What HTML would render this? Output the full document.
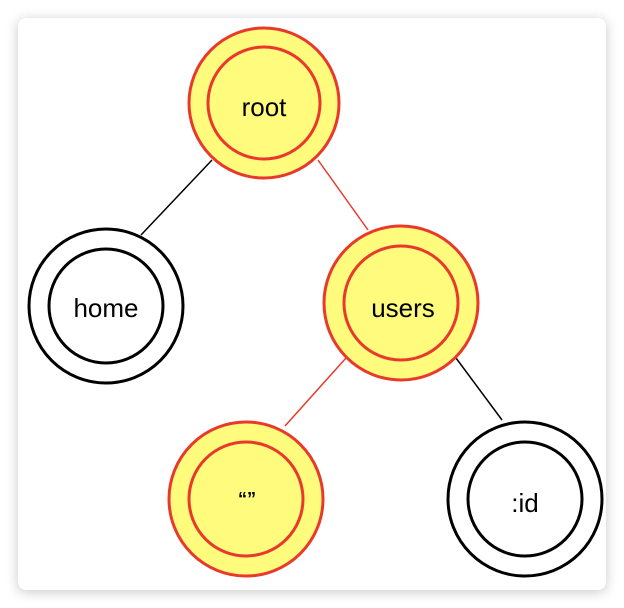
<!DOCTYPE html>
<html><head><style>
html,body{margin:0;padding:0;background:#fff;}
.card{position:absolute;left:18px;top:18px;width:588px;height:572px;background:#fff;border-radius:8px;box-shadow:0 2px 12px rgba(0,0,0,0.22);}
svg{position:absolute;left:0;top:0;}
text{font-family:"Liberation Sans",sans-serif;font-size:26px;text-anchor:middle;dominant-baseline:central;fill:#000;}
</style></head><body>
<div class="card"></div>
<svg width="624" height="608" viewBox="0 0 624 608">
<line x1="212" y1="160" x2="141" y2="235" stroke="#000" stroke-width="1.5"/>
<line x1="318" y1="160" x2="368" y2="230" stroke="#e8392a" stroke-width="1.5"/>
<line x1="346" y1="358" x2="285" y2="426" stroke="#e8392a" stroke-width="1.5"/>
<line x1="456" y1="358" x2="502" y2="420" stroke="#000" stroke-width="1.5"/>
<g stroke="#e8392a" stroke-width="3" fill="#fffb7d">
<circle cx="264" cy="103" r="75"/><circle cx="264" cy="103" r="56"/>
<circle cx="401" cy="303" r="77"/><circle cx="401" cy="303" r="57"/>
<circle cx="246" cy="499" r="77"/><circle cx="246" cy="499" r="57"/>
</g>
<g stroke="#000" stroke-width="3" fill="#fff">
<circle cx="106" cy="306" r="77"/><circle cx="106" cy="306" r="57"/>
<circle cx="525" cy="499" r="77"/><circle cx="525" cy="499" r="57"/>
</g>
<text x="264" y="107">root</text>
<text x="403" y="308">users</text>
<text x="106" y="308">home</text>
<text x="525" y="503">:id</text>
<text x="247" y="499" style="font-size:18px;font-weight:bold">“”</text>
</svg>
</body></html>
